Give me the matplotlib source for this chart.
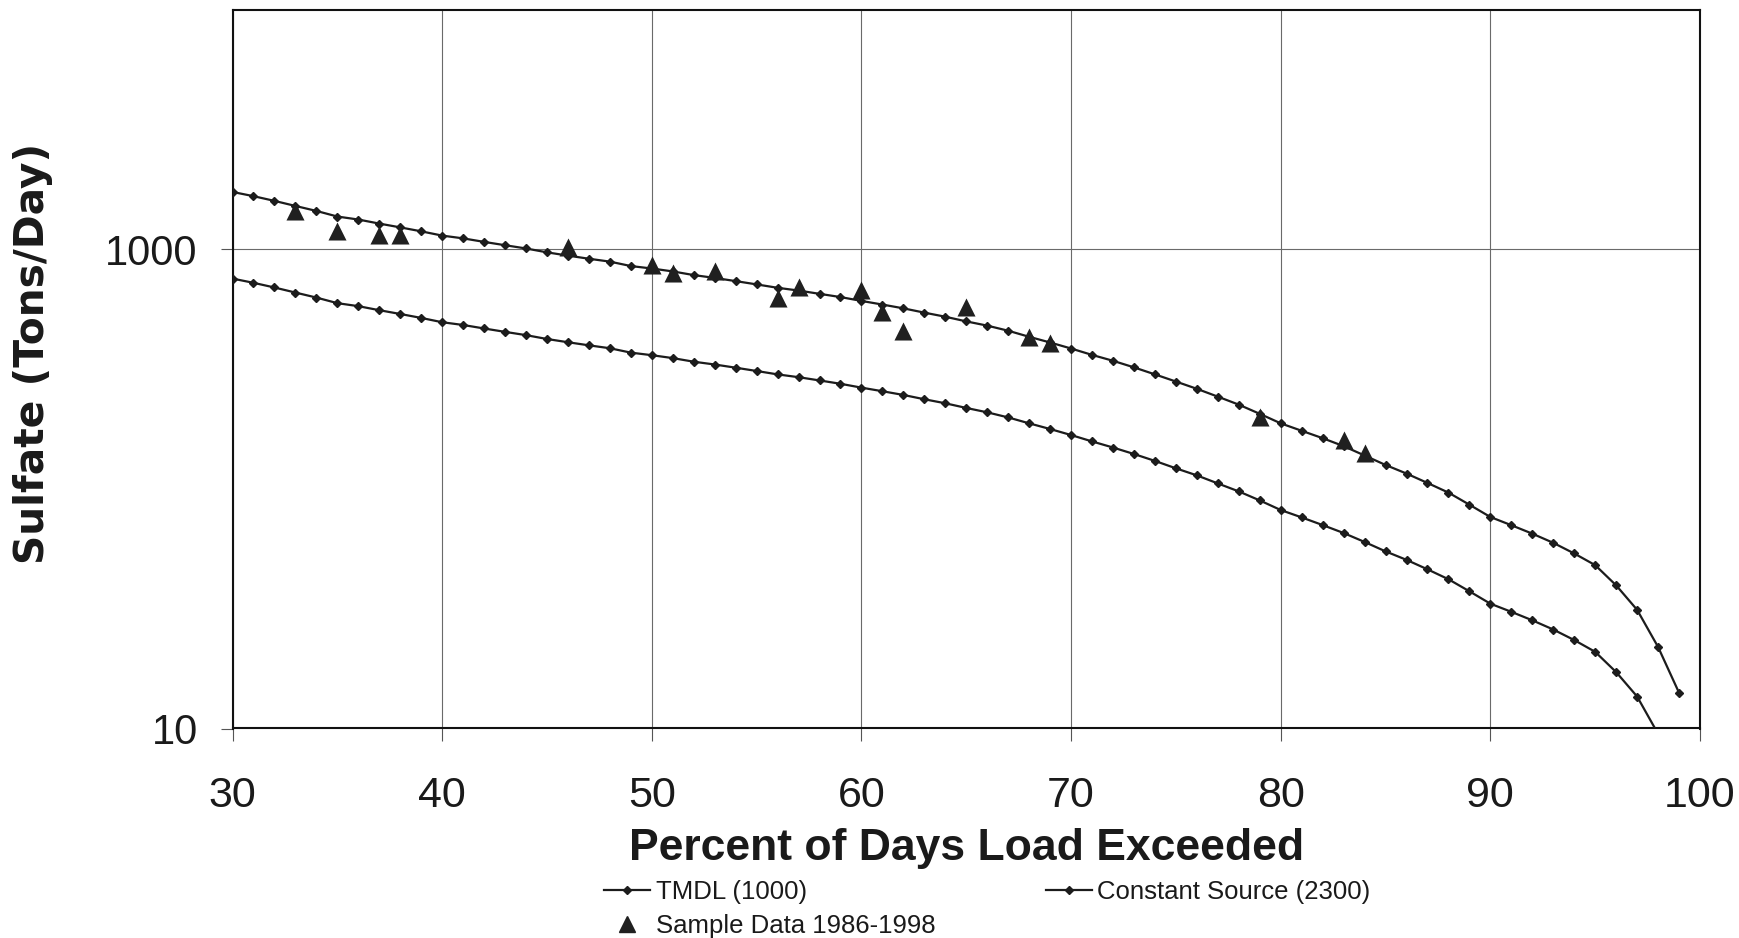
import matplotlib
matplotlib.use("Agg")
import matplotlib.pyplot as plt
from matplotlib.lines import Line2D
from matplotlib.ticker import FixedLocator, FixedFormatter, NullLocator

# ---------------- data ----------------
tmdl_x = list(range(30, 99))
tmdl = [756, 726, 694, 661, 630, 597, 580, 558, 538, 518,
        497, 484, 468, 453, 439, 423, 410, 398, 387, 371,
        362, 352, 340, 331, 321, 311, 301, 293, 284, 275,
        265, 256, 247, 237, 228, 218, 209, 199, 188, 178,
        168, 158, 149, 140, 131, 122, 114, 105.5, 97.7, 89.6,
        81.7, 76.1, 70.7, 65.5, 60.1, 54.9, 50.6, 46.2, 42.0, 37.4,
        33.2, 30.7, 28.3, 25.9, 23.4, 20.9, 17.2, 13.6, 9.5]

const_x = list(range(30, 100))
const_src = [1739, 1670, 1596, 1520, 1449, 1373, 1334, 1283, 1237, 1191,
             1143, 1113, 1076, 1042, 1010, 973, 943, 915, 890, 853,
             833, 810, 782, 761, 738, 715, 692, 674, 653, 633,
             610, 589, 568, 545, 524, 501, 481, 458, 432, 409,
             386, 363, 343, 322, 301, 281, 262, 243, 225, 206,
             188, 175, 163, 151, 138, 126, 116, 106, 96.6, 86.0,
             76.4, 70.6, 65.1, 59.6, 53.8, 48.1, 39.6, 31.3, 21.9, 14.1]

sample_x = [33, 35, 37, 38, 46, 50, 51, 53, 56, 57, 60, 61, 62, 65, 68, 69, 79, 83, 84]
sample = [1450, 1195, 1145, 1150, 1020, 862, 798, 815, 628, 700,
          675, 548, 456, 577, 430, 406, 199, 159.5, 142]

x_ticks = [30, 40, 50, 60, 70, 80, 90, 100]
y_ticks = [10, 1000]
y_tick_labels = ["10", "1000"]

series_labels = ["TMDL (1000)", "Constant Source (2300)", "Sample Data 1986-1998"]
x_title = "Percent of Days Load Exceeded"
y_title = "Sulfate (Tons/Day)"

# ---------------- figure ----------------
plt.rcParams["font.family"] = ["Liberation Sans", "DejaVu Sans"]
W, H = 1739, 938
fig = plt.figure(figsize=(W / 100, H / 100), dpi=100)
fig.patch.set_facecolor("white")

ax_l, ax_r, ax_t, ax_b = 232.5, 1700, 10, 728.5
ax = fig.add_axes([ax_l / W, 1 - ax_b / H, (ax_r - ax_l) / W, (ax_b - ax_t) / H])

ink = "#1c1c1c"
ln1, = ax.plot(tmdl_x, tmdl, color=ink, lw=1.6, marker="D", ms=4.2,
               markerfacecolor=ink, markeredgecolor=ink, zorder=3)
ln2, = ax.plot(const_x, const_src, color=ink, lw=1.6, marker="D", ms=4.2,
               markerfacecolor=ink, markeredgecolor=ink, zorder=3)
pts = ax.scatter(sample_x, sample, marker="^", s=13 ** 2, color="#202020",
                 zorder=4, linewidths=0)

ax.set_yscale("log")
ax.set_xlim(30, 100)
ax.set_ylim(10, 10000)

ax.xaxis.set_major_locator(FixedLocator(x_ticks))
ax.yaxis.set_major_locator(FixedLocator(y_ticks))
ax.yaxis.set_major_formatter(FixedFormatter(y_tick_labels))
ax.yaxis.set_minor_locator(NullLocator())
ax.xaxis.set_minor_locator(NullLocator())

ax.grid(True, which="major", color="#6a6a6a", lw=0.8)
ax.set_axisbelow(True)

for s in ax.spines.values():
    s.set_color("#111111")
    s.set_linewidth(1.5)

ax.tick_params(axis="x", direction="out", length=9, width=0.8, color="#555555",
               pad=25, labelsize=31, labelcolor="#1a1a1a")
ax.tick_params(axis="y", direction="out", length=9, width=0.8, color="#555555",
               pad=16, labelsize=30, labelcolor="#1a1a1a")

ax.set_xlabel(x_title, fontsize=32, fontweight="bold", color="#1a1a1a", va="top")
ax.xaxis.set_label_coords(0.5, -(828 - ax_b) / (ax_b - ax_t))
ax.set_ylabel(y_title, fontsize=29.3, fontweight="bold", color="#1a1a1a",
              family=["DejaVu Sans"])
ax.yaxis.set_label_coords(-(ax_l - 53) / (ax_r - ax_l), (ax_b - 353) / (ax_b - ax_t))

# legend: row-major order (TMDL, Constant / Sample)
h1 = Line2D([], [], color=ink, lw=1.6, marker="D", ms=4.2)
h2 = Line2D([], [], color=ink, lw=1.6, marker="D", ms=4.2)
h3 = Line2D([], [], color="#202020", lw=0, marker="^", ms=12)
leg = fig.legend([h1, h3, h2], [series_labels[0], series_labels[2], series_labels[1]],
                 ncol=2, frameon=False, loc="upper left",
                 bbox_to_anchor=(581 / W, 1 - 857 / H),
                 fontsize=18.5, handlelength=1.8, handletextpad=0.2,
                 columnspacing=4.3, labelspacing=0.37, borderpad=0.4)
for t in leg.get_texts():
    t.set_color("#1a1a1a")

fig.savefig("out.png", dpi=100, facecolor="white")
